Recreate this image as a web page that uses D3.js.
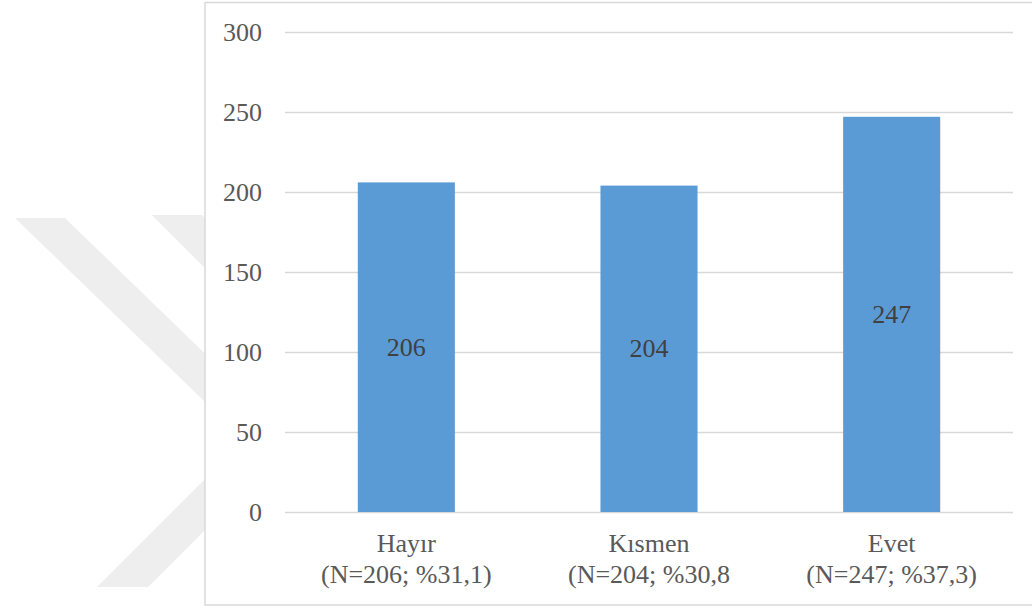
<!DOCTYPE html>
<html>
<head>
<meta charset="utf-8">
<script src="https://cdn.jsdelivr.net/npm/d3@7"></script>
<style>
  html, body { margin: 0; padding: 0; background: #ffffff; }
  svg { display: block; }
</style>
</head>
<body>
<svg id="chart" width="1032" height="608"></svg>
<script>
// Answer categories, counts and the two-line axis labels
const categories = ["Hayır", "Kısmen", "Evet"];
const counts = [206, 204, 247];
const subLabels = ["(N=206; %31,1)", "(N=204; %30,8", "(N=247; %37,3)"];
const yTicks = [0, 50, 100, 150, 200, 250, 300];

const svg = d3.select("#chart");
const FONT = "Liberation Serif";

// faint diagonal background stripes
const stripes = [
  [[15, 218], [65, 218], [315, 460], [265, 460]],
  [[152, 215], [202, 215], [352, 365], [302, 365]],
  [[97, 587], [148, 587], [298, 437], [247, 437]]
];
svg.append("g").selectAll("polygon").data(stripes).join("polygon")
  .attr("points", d => d.map(p => p.join(",")).join(" "))
  .attr("fill", "#eeeeee");

// chart frame
svg.append("rect")
  .attr("x", 205).attr("y", 2.5)
  .attr("width", 900).attr("height", 602.5)
  .attr("fill", "#ffffff")
  .attr("stroke", "#d9d9d9").attr("stroke-width", 1.5);

const plot = { left: 285, right: 1013, top: 32, bottom: 512 };
const pw = plot.right - plot.left;

const x = d3.scaleBand().domain(categories).range([plot.left, plot.right]).padding(0);
const y = d3.scaleLinear().domain([0, 300]).range([plot.bottom, plot.top]);
const barW = x.bandwidth() * 0.4;

// value axis with gridlines
const yAxis = svg.append("g")
  .attr("transform", `translate(${plot.left},0)`)
  .call(d3.axisLeft(y).tickValues(yTicks).tickSizeInner(-pw).tickSizeOuter(0).tickPadding(23))
  .attr("font-family", FONT)
  .attr("font-size", 26);
yAxis.select(".domain").remove();
yAxis.selectAll(".tick line").attr("stroke", "#d9d9d9").attr("stroke-width", 1.5);
yAxis.selectAll(".tick text").attr("fill", "#595959");

// bars
svg.append("g").selectAll("rect").data(counts).join("rect")
  .attr("x", (d, i) => x(categories[i]) + (x.bandwidth() - barW) / 2)
  .attr("y", d => y(d))
  .attr("width", barW)
  .attr("height", d => y(0) - y(d))
  .attr("fill", "#5b9bd5");

// value labels centred in the bars
svg.append("g")
  .attr("font-family", FONT).attr("font-size", 26)
  .selectAll("text").data(counts).join("text")
  .attr("x", (d, i) => x(categories[i]) + x.bandwidth() / 2)
  .attr("y", d => (y(d) + y(0)) / 2)
  .attr("dy", "0.33em")
  .attr("text-anchor", "middle")
  .attr("fill", "#404040")
  .text(d => d);

// category labels
const xl = svg.append("g")
  .attr("font-family", FONT).attr("font-size", 26)
  .selectAll("text").data(categories).join("text")
  .attr("text-anchor", "middle")
  .attr("fill", "#595959");
xl.append("tspan")
  .attr("x", d => x(d) + x.bandwidth() / 2)
  .attr("y", 552)
  .text(d => d);
xl.append("tspan")
  .attr("x", d => x(d) + x.bandwidth() / 2)
  .attr("y", 583)
  .text((d, i) => subLabels[i]);
</script>
</body>
</html>
